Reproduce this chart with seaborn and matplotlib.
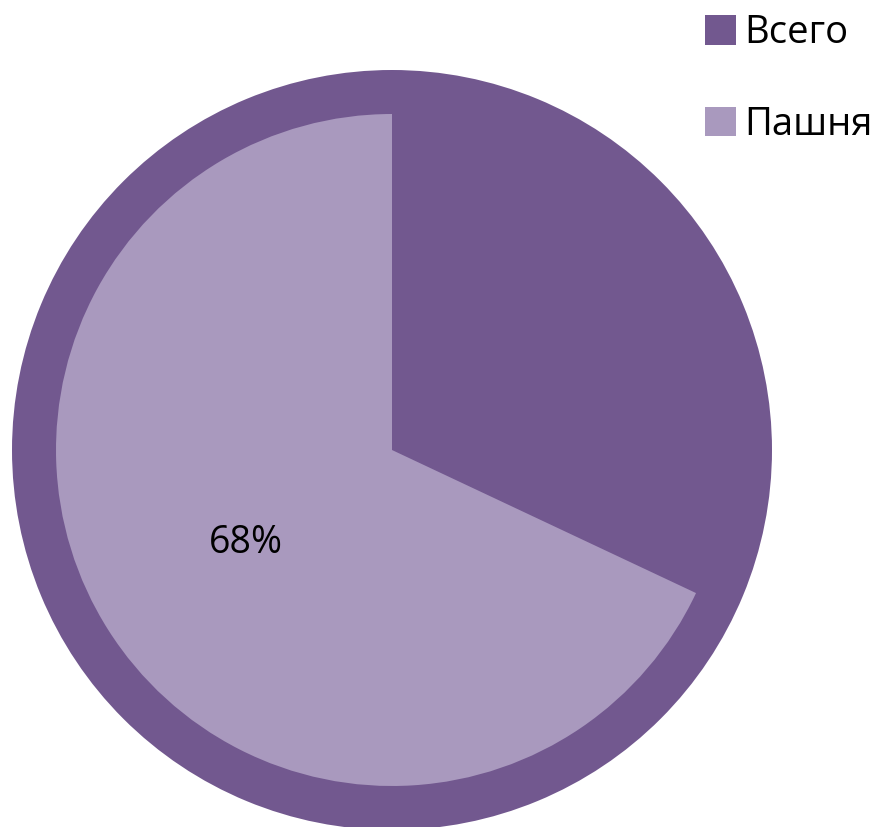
import matplotlib.pyplot as plt
import seaborn as sns
from matplotlib.patches import Patch

labels = ["Всего", "Пашня"]
shares = [1.00, 0.68]
pct_text = "68%"
colors = ["#72588F", "#A999BE"]

sns.set_theme(style="white")
plt.rcParams["font.family"] = ["Open Sans", "DejaVu Sans"]

fig = plt.figure(figsize=(8.81, 8.27), dpi=100)
ax = fig.add_axes([0, 0, 1, 1])

center = (392, 827 - 450)

# outer full circle
ax.pie([shares[0]], normalize=False, colors=[colors[0]], radius=380,
       center=center, startangle=90, counterclock=True,
       wedgeprops={"linewidth": 0})

# inner partial wedge
ax.pie([shares[1]], normalize=False, colors=[colors[1]], radius=336,
       center=center, startangle=90, counterclock=True,
       autopct=lambda p: pct_text, pctdistance=0.515,
       textprops={"fontsize": 27, "color": "black"},
       wedgeprops={"linewidth": 0})

ax.set_xlim(0, 881)
ax.set_ylim(0, 827)
ax.set_aspect("equal")
ax.axis("off")

handles = [Patch(facecolor=c, edgecolor="none") for c in colors]
leg = ax.legend(handles, labels, loc="upper left", bbox_to_anchor=(690 / 881, 1 + 1 / 827),
                frameon=False, fontsize=27.5, handlelength=0.8, handleheight=0.8,
                handletextpad=0.22, labelspacing=1.4, borderaxespad=0)
for t in leg.get_texts():
    t.set_color("black")

fig.savefig("out.png", dpi=100)
